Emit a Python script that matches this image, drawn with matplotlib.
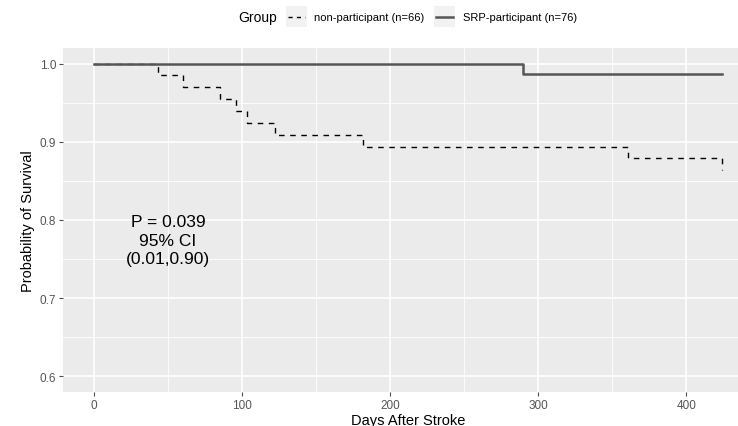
import matplotlib
matplotlib.use("Agg")
import matplotlib.pyplot as plt
from matplotlib.patches import Rectangle
from matplotlib.lines import Line2D

plt.rcParams['font.family'] = ['Liberation Sans', 'DejaVu Sans']

# Kaplan-Meier step data
non_days = [0, 43, 60, 85, 96, 103, 122, 182, 361, 424]
non_surv = [1.0, 0.985, 0.970, 0.955, 0.939, 0.924, 0.909, 0.894, 0.879, 0.864]
non_end = 424
srp_days = [0, 290]
srp_surv = [1.0, 0.987]
srp_end = 424

group_title = "Group"
labels = ["non-participant (n=66)", "SRP-participant (n=76)"]
annot = "P = 0.039\n95% CI\n(0.01,0.90)"
xticks = [0, 100, 200, 300, 400]
yticks = [0.6, 0.7, 0.8, 0.9, 1.0]

W, H = 738, 427
fig = plt.figure(figsize=(7.38, 4.27), dpi=100)
ax_left, ax_top, ax_bot = 63, 49, 393
ax = fig.add_axes([ax_left/W, 1-ax_bot/H, 1-ax_left/W, (ax_bot-ax_top)/H])
ax.set_facecolor('#EBEBEB')
for s in ax.spines.values():
    s.set_visible(False)

ax.set_xlim(-21, 435)
ax.set_ylim(0.58, 1.02)

# grid
for x in [50, 150, 250, 350]:
    ax.axvline(x, color='white', lw=0.6, zorder=0)
for y in [0.65, 0.75, 0.85, 0.95]:
    ax.axhline(y, color='white', lw=0.6, zorder=0)
for x in xticks:
    ax.axvline(x, color='white', lw=1.2, zorder=0)
for y in yticks:
    ax.axhline(y, color='white', lw=1.2, zorder=0)

ax.step(non_days + [non_end], non_surv + [non_surv[-1]], where='post',
        color='black', lw=1.0, ls=(0, (4, 4)), zorder=2)
ax.step(srp_days + [srp_end], srp_surv + [srp_surv[-1]], where='post',
        color='#555555', lw=1.8, zorder=3)

ax.set_xticks(xticks)
ax.set_yticks(yticks)
ax.set_xticklabels([str(v) for v in xticks])
ax.set_yticklabels([f"{v:.1f}" for v in yticks])
ax.tick_params(axis='both', colors='#4D4D4D', labelsize=8.5, length=3, width=0.8,
               labelcolor='#555555', pad=2)
ax.set_xlabel("Days After Stroke", fontsize=10.5, color='black', va='center')
ax.xaxis.set_label_coords((408-ax_left)/(W-ax_left), -(421-ax_bot)/(ax_bot-ax_top))
ax.set_ylabel("Probability of Survival", fontsize=10.5, color='black', va='center')
ax.yaxis.set_label_coords(-(ax_left-28)/(W-ax_left), 0.5)

ax.text(50, 0.774, annot, ha='center', va='center', fontsize=12.5,
        linespacing=1.3, color='black')

# legend (top)
def fx(px): return px / W
def fy(py): return 1 - py / H
fig.text(fx(238), fy(18), group_title, fontsize=10, va='center', ha='left')
for kx, ls, col, lw in [(286, (0, (3, 3)), 'black', 1.0), (434, '-', '#555555', 1.8)]:
    fig.patches.append(Rectangle((fx(kx), fy(28)), fx(21), 21/H, transform=fig.transFigure,
                                 facecolor='#F2F2F2', edgecolor='none'))
    fig.lines.append(Line2D([fx(kx+2), fx(kx+19)], [fy(17.5), fy(17.5)],
                            transform=fig.transFigure, color=col, lw=lw, ls=ls))
fig.text(fx(314), fy(18), labels[0], fontsize=8, va='center', ha='left')
fig.text(fx(463), fy(18), labels[1], fontsize=8, va='center', ha='left')

fig.savefig("out.png", dpi=100)
